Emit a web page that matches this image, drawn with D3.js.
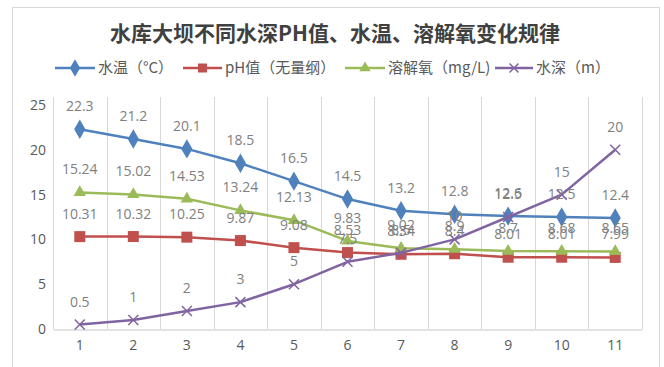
<!DOCTYPE html>
<html><head><meta charset="utf-8">
<script src="https://cdn.jsdelivr.net/npm/d3@7"></script>
<style>
html,body{margin:0;padding:0;background:#fff;}
svg{display:block;}
text{font-family:"Noto Sans CJK SC","Noto Sans",sans-serif;}
</style></head>
<body>
<svg id="chart" width="664" height="367"></svg>
<script>
const categories = ["1","2","3","4","5","6","7","8","9","10","11"];
const waterTemp = [22.3,21.2,20.1,18.5,16.5,14.5,13.2,12.8,12.6,12.5,12.4];
const phValue = [10.31,10.32,10.25,9.87,9.08,8.53,8.34,8.4,8.01,8.01,7.99];
const dissolvedO2 = [15.24,15.02,14.53,13.24,12.13,9.83,9.02,8.9,8.7,8.68,8.65];
const waterDepth = [0.5,1,2,3,5,7.5,8.5,10,12.5,15,20];
const yTicks = [0,5,10,15,20,25];
const seriesNames = ["水温（°C）","pH值（无量纲）","溶解氧（mg/L)","水深（m）"];
const title = "水库大坝不同水深PH值、水温、溶解氧变化规律";

const series = [
  {name: seriesNames[0], values: waterTemp, color: "#4F81BD", marker: "diamond"},
  {name: seriesNames[1], values: phValue, color: "#C0504D", marker: "square"},
  {name: seriesNames[2], values: dissolvedO2, color: "#9BBB59", marker: "triangle"},
  {name: seriesNames[3], values: waterDepth, color: "#8064A2", marker: "cross"}
];

const svg = d3.select("#chart");

// outer frame
svg.append("rect").attr("x",12.5).attr("y",7.5).attr("width",647).attr("height",370)
  .attr("fill","none").attr("stroke","#d9d9d9").attr("stroke-width",1);

const x = d3.scaleBand().domain(categories).range([53, 642]);
const y = d3.scaleLinear().domain([0,25]).range([329, 105]);
const cx = c => x(c) + x.bandwidth()/2;

// vertical gridlines at category boundaries
const gridX = categories.map(c => x(c)).concat([x.range()[1]]);
svg.append("g").selectAll("line").data(gridX).join("line")
  .attr("x1", d => Math.round(d)+0.5).attr("x2", d => Math.round(d)+0.5)
  .attr("y1", y(25)-8).attr("y2", y(0))
  .attr("stroke","#d9d9d9").attr("stroke-width",1);

// y axis
const yAxis = svg.append("g").attr("transform","translate(46,0)")
  .call(d3.axisLeft(y).tickValues(yTicks).tickSize(0).tickPadding(0));
yAxis.select(".domain").remove();
yAxis.selectAll("text").attr("fill","#595959").style("font-size","14px")
  .style("font-family","'Open Sans','Noto Sans',sans-serif");

// x axis
const xAxis = svg.append("g").attr("transform",`translate(0,${y(0)+0.5})`)
  .call(d3.axisBottom(x).tickSize(0).tickPadding(11));
xAxis.select(".domain").attr("stroke","#d9d9d9").attr("stroke-width",1.5);
xAxis.selectAll("text").attr("fill","#595959").style("font-size","14px")
  .style("font-family","'Open Sans','Noto Sans',sans-serif");

// title
svg.append("text").attr("x",335).attr("y",41).attr("text-anchor","middle")
  .attr("fill","#404040").style("font-size","21px").style("font-weight","bold")
  .text(title);

function drawMarker(g, type, color, px, py, s) {
  if (type === "diamond") {
    g.append("path").attr("d", d3.symbol(d3.symbolDiamond, s*s*0.9)())
      .attr("transform",`translate(${px},${py})`).attr("fill",color);
  } else if (type === "square") {
    g.append("rect").attr("x",px-s/2).attr("y",py-s/2).attr("width",s).attr("height",s)
      .attr("fill",color);
  } else if (type === "triangle") {
    g.append("path").attr("d", d3.symbol(d3.symbolTriangle, s*s*0.55)())
      .attr("transform",`translate(${px},${py})`).attr("fill",color);
  } else {
    const h = s/2;
    g.append("path").attr("d",`M${px-h},${py-h}L${px+h},${py+h}M${px-h},${py+h}L${px+h},${py-h}`)
      .attr("stroke",color).attr("stroke-width",1.5).attr("fill","none");
  }
}

const line = d3.line().x((d,i) => cx(categories[i])).y(d => y(d));

const plot = svg.append("g");
series.forEach(s => {
  const g = plot.append("g");
  g.append("path").datum(s.values).attr("d", line)
    .attr("fill","none").attr("stroke",s.color).attr("stroke-width",2.5).attr("stroke-linejoin","round");
  s.values.forEach((v,i) => drawMarker(g, s.marker, s.color, cx(categories[i]), y(v), s.marker==="cross"?10:(s.marker==="square"?11:11)));
});

// data labels
const labels = svg.append("g");
series.forEach(s => {
  labels.append("g").selectAll("text").data(s.values).join("text")
    .attr("x",(d,i) => cx(categories[i]))
    .attr("y", d => y(d) - 18)
    .attr("text-anchor","middle")
    .attr("fill","#808080")
    .style("font-size","14px")
    .style("font-family","'Open Sans','Noto Sans',sans-serif")
    .text(d => d);
});

// legend
const legendY = 68;
const legendItems = [
  {x0:55, x1:95, tx:98},
  {x0:183, x1:222, tx:225},
  {x0:345, x1:385, tx:388},
  {x0:495, x1:533, tx:536}
];
const legend = svg.append("g");
series.forEach((s,i) => {
  const it = legendItems[i];
  legend.append("line").attr("x1",it.x0).attr("x2",it.x1).attr("y1",legendY).attr("y2",legendY)
    .attr("stroke",s.color).attr("stroke-width",2.5);
  drawMarker(legend, s.marker, s.color, (it.x0+it.x1)/2, legendY, s.marker==="cross"?9:(s.marker==="square"?9:10));
  legend.append("text").attr("x",it.tx).attr("y",legendY+5).attr("fill","#595959")
    .style("font-size","15px").text(s.name);
});
</script>
</body></html>
